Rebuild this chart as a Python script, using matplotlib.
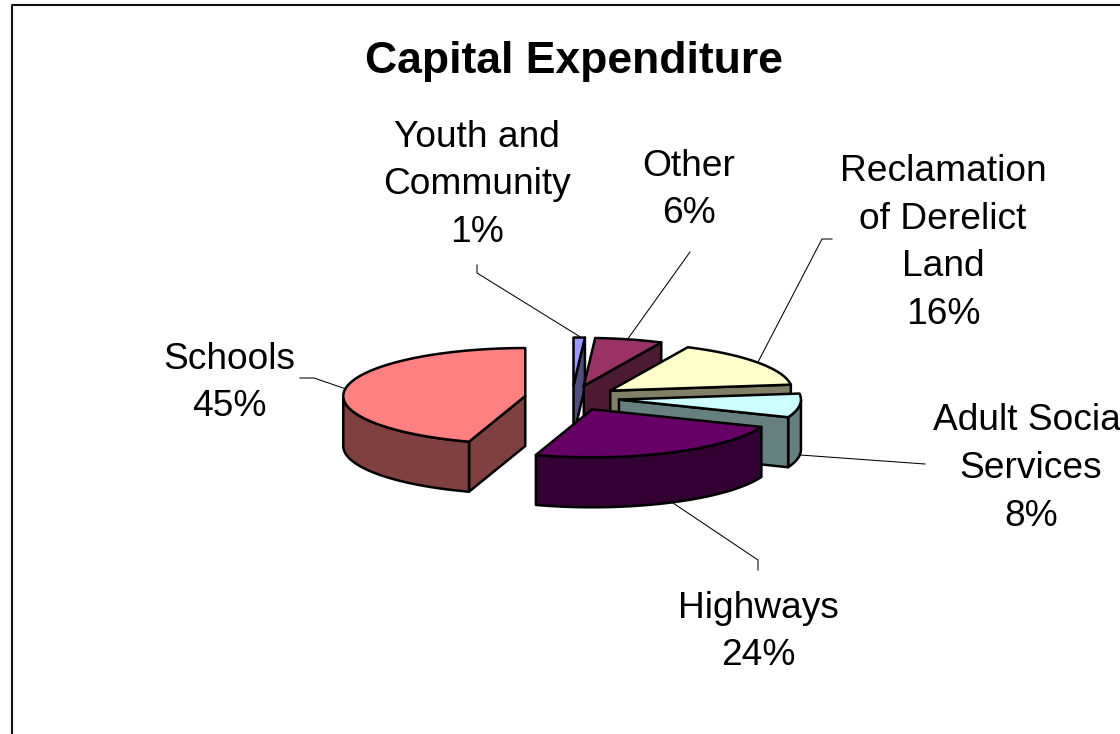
import numpy as np
import matplotlib
matplotlib.use("Agg")
import matplotlib.pyplot as plt
from matplotlib.patches import Polygon

plt.rcParams['font.family'] = ['Liberation Sans', 'DejaVu Sans']

# Capital expenditure shares, clockwise from twelve o'clock
categories = ["Youth and\nCommunity", "Other", "Reclamation\nof Derelict\nLand",
              "Adult Social\nServices", "Highways", "Schools"]
shares = [1, 6, 16, 8, 24, 45]

top_colours = ["#9999FF", "#993366", "#FFFFCC", "#CCFFFF", "#660066", "#FF8080"]
side_colours = ["#4D4D80", "#4D1A33", "#808066", "#668080", "#330033", "#804040"]

# Projection of the pie in figure pixels
CX, CY = 572, 398
RX, RY = 182, 48
DEPTH = 50
EXPLODE = 0.26

# Label centres and leader-line routes, in figure pixels
label_centres = [(477, 185), (689, 190), (943, 243), (1031, 468.5), (758, 632), (229, 383)]
leaders = [
    [(477, 265), (477, 273), (582, 338)],
    [(690, 252), (627, 340)],
    [(832, 239), (822, 239), (758, 362)],
    [(925, 464), (800, 455)],
    [(758, 570), (758, 560), (670, 501)],
    [(300, 378), (314, 378), (346, 389)],
]
# Slices are painted back to front
paint_order = [0, 1, 2, 3, 5, 4]

fig = plt.figure(figsize=(11.2, 7.34), dpi=100)
ax = fig.add_axes([0, 0, 1, 1])
ax.set_xlim(0, 1120)
ax.set_ylim(734, 0)
ax.axis("off")

# Chart frame runs off the right and bottom of the canvas
ax.plot([11.5, 11.5, 1130], [745, 4.5, 4.5], color="#111111", lw=1.5, zorder=1)

ax.text(574, 61.5, "Capital Expenditure", ha="center", va="center",
        fontsize=32, fontweight="bold", color="black")

for route in leaders:
    xs, ys = zip(*route)
    ax.plot(xs, ys, color="black", lw=0.75, zorder=2)

fractions = np.array(shares, dtype=float) / sum(shares)
edges = np.concatenate([[0], np.cumsum(fractions)]) * 2 * np.pi


def project(ax0, ay0, theta):
    return ax0 + RX * np.sin(theta), ay0 - RY * np.cos(theta)


z = 3
for i in paint_order:
    a0, a1 = edges[i], edges[i + 1]
    mid = (a0 + a1) / 2
    ox, oy = project(CX, CY, mid)
    apex_x = CX + EXPLODE * (ox - CX)
    apex_y = CY + EXPLODE * (oy - CY)

    n = max(int((a1 - a0) / 0.02), 4)
    th = np.linspace(a0, a1, n)
    arc_x, arc_y = project(apex_x, apex_y, th)
    px = np.concatenate([[apex_x], arc_x])
    py = np.concatenate([[apex_y], arc_y])

    # Extrude every boundary edge that faces the viewer (its outward normal points down)
    m = len(px)
    visible = [px[(k + 1) % m] - px[k] < -1e-9 for k in range(m)]
    # The two radial faces and the rim each become their own panel
    panels = []
    piece = []
    for e in range(m):
        if visible[e] and e not in (0, m - 1):
            piece.append(e)
        else:
            if piece:
                panels.append(piece)
                piece = []
            if visible[e]:
                panels.append([e])
    for panel in panels:
        vx = [px[e] for e in panel] + [px[(panel[-1] + 1) % m]]
        vy = [py[e] for e in panel] + [py[(panel[-1] + 1) % m]]
        verts = list(zip(vx, vy)) + [(x, y + DEPTH) for x, y in zip(vx[::-1], vy[::-1])]
        ax.add_patch(Polygon(verts, closed=True, facecolor=side_colours[i],
                             edgecolor="black", lw=1.8, joinstyle="round", zorder=z))
        z += 1
    ax.add_patch(Polygon(np.column_stack([px, py]), closed=True, facecolor=top_colours[i],
                         edgecolor="black", lw=1.8, joinstyle="round", zorder=z))
    z += 1

for name, share, (lx, ly) in zip(categories, shares, label_centres):
    ax.text(lx, ly, f"{name}\n{share}%", ha="center", va="center", fontsize=26.7,
            linespacing=1.47, color="black", zorder=50)

fig.savefig("out.png", dpi=100, facecolor="white")
